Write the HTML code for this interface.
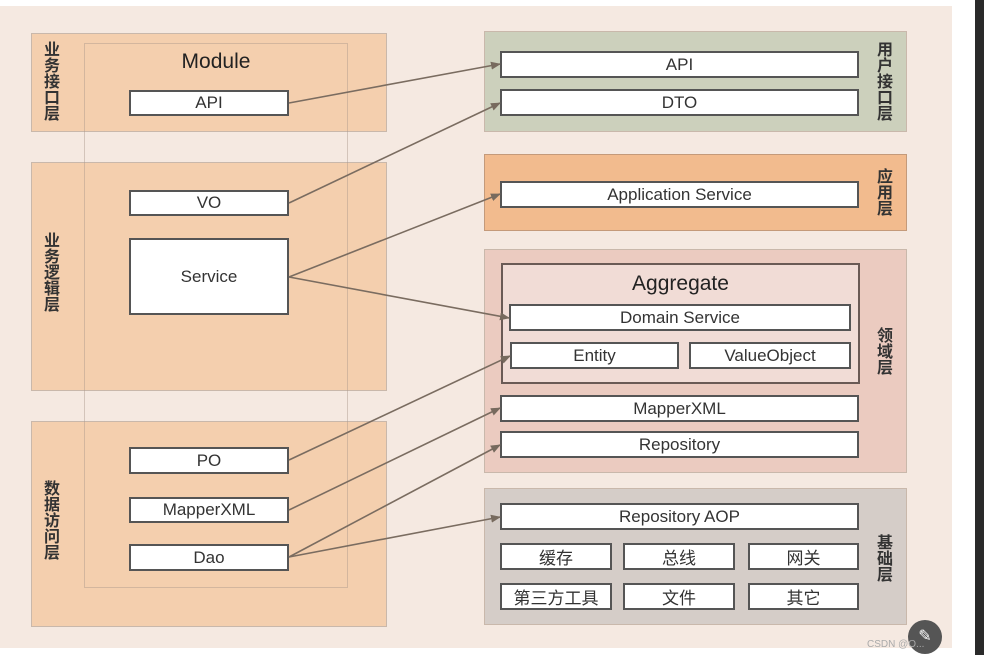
<!DOCTYPE html>
<html><head><meta charset="utf-8"><style>
body{margin:0;width:984px;height:655px;background:#fff;position:relative;overflow:hidden;font-family:"Liberation Sans","Noto Sans CJK SC",sans-serif;}
div{position:absolute;box-sizing:border-box;}
.bg{left:0;top:6px;width:952px;height:642px;background:#f5e9e1;}
.dark{left:975px;top:0;width:9px;height:655px;background:#2a2a2a;}
.p{border:1.5px solid #c9b8ab;}
.b{background:#fff;border:2px solid #555;color:#333;font-size:17px;text-align:center;display:flex;align-items:center;justify-content:center;}
.lab{font-size:16px;font-weight:bold;color:#333;width:20px;line-height:16px;text-align:center;}
</style></head><body>
<div class="bg"></div>
<div class="dark"></div>
<div class="p" style="left:31px;top:33px;width:356px;height:99px;background:#f4cfae"></div>
<div class="p" style="left:31px;top:162px;width:356px;height:229px;background:#f4cfae"></div>
<div class="p" style="left:31px;top:421px;width:356px;height:206px;background:#f4cfae"></div>
<div style="left:84px;top:43px;width:264px;height:545px;border:1.5px solid rgba(170,150,140,0.45)"></div>
<div style="left:84px;top:50px;width:264px;text-align:center;font-size:21px;color:#222">Module</div>
<div class="lab" style="left:42px;top:43px">业务接口层</div>
<div class="lab" style="left:42px;top:234px">业务逻辑层</div>
<div class="lab" style="left:42px;top:482px">数据访问层</div>
<div class="b" style="left:129px;top:90px;width:160px;height:26px">API</div>
<div class="b" style="left:129px;top:190px;width:160px;height:26px">VO</div>
<div class="b" style="left:129px;top:238px;width:160px;height:77px">Service</div>
<div class="b" style="left:129px;top:447px;width:160px;height:27px">PO</div>
<div class="b" style="left:129px;top:497px;width:160px;height:26px">MapperXML</div>
<div class="b" style="left:129px;top:544px;width:160px;height:27px">Dao</div>

<div class="p" style="left:484px;top:31px;width:423px;height:101px;background:#ccd0bc"></div>
<div class="p" style="left:484px;top:154px;width:423px;height:77px;background:#f2bb8e;border-color:#c49a7a"></div>
<div class="p" style="left:484px;top:249px;width:423px;height:224px;background:#ebcbc0"></div>
<div class="p" style="left:484px;top:488px;width:423px;height:137px;background:#d5cdc8"></div>
<div class="lab" style="left:875px;top:43px">用户接口层</div>
<div class="lab" style="left:875px;top:170px">应用层</div>
<div class="lab" style="left:875px;top:329px">领域层</div>
<div class="lab" style="left:875px;top:536px">基础层</div>
<div class="b" style="left:500px;top:51px;width:359px;height:27px">API</div>
<div class="b" style="left:500px;top:89px;width:359px;height:27px">DTO</div>
<div class="b" style="left:500px;top:181px;width:359px;height:27px">Application Service</div>
<div style="left:501px;top:263px;width:359px;height:121px;background:#f1dcd6;border:2px solid #6a5a55"></div>
<div style="left:501px;top:272px;width:359px;text-align:center;font-size:21px;color:#222">Aggregate</div>
<div class="b" style="left:509px;top:304px;width:342px;height:27px">Domain Service</div>
<div class="b" style="left:510px;top:342px;width:169px;height:27px">Entity</div>
<div class="b" style="left:689px;top:342px;width:162px;height:27px">ValueObject</div>
<div class="b" style="left:500px;top:395px;width:359px;height:27px">MapperXML</div>
<div class="b" style="left:500px;top:431px;width:359px;height:27px">Repository</div>
<div class="b" style="left:500px;top:503px;width:359px;height:27px">Repository AOP</div>
<div class="b" style="left:500px;top:543px;width:112px;height:27px">缓存</div>
<div class="b" style="left:623px;top:543px;width:112px;height:27px">总线</div>
<div class="b" style="left:748px;top:543px;width:111px;height:27px">网关</div>
<div class="b" style="left:500px;top:583px;width:112px;height:27px">第三方工具</div>
<div class="b" style="left:623px;top:583px;width:112px;height:27px">文件</div>
<div class="b" style="left:748px;top:583px;width:111px;height:27px">其它</div>
<div style="left:908px;top:620px;width:34px;height:34px;border-radius:50%;background:#555;color:#fff;font-size:16px;text-align:center;line-height:34px">✎</div>
<div style="left:867px;top:639px;font-size:10px;color:#aaa">CSDN @O...</div>

<svg width="984" height="655" style="position:absolute;left:0;top:0">
<defs><marker id="a" markerWidth="10" markerHeight="8" refX="9" refY="4" orient="auto" markerUnits="userSpaceOnUse"><path d="M0,0 L10,4 L0,8 z" fill="#776a5e"/></marker></defs>
<g stroke="#7a6c60" stroke-width="1.6" fill="none" marker-end="url(#a)">
<line x1="289" y1="103" x2="500" y2="64"/>
<line x1="289" y1="203" x2="500" y2="103"/>
<line x1="289" y1="277" x2="500" y2="194"/>
<line x1="289" y1="277" x2="509" y2="318"/>
<line x1="289" y1="460" x2="510" y2="356"/>
<line x1="289" y1="510" x2="500" y2="408"/>
<line x1="289" y1="557" x2="500" y2="445"/>
<line x1="289" y1="557" x2="500" y2="517"/>
</g></svg>
</body></html>
